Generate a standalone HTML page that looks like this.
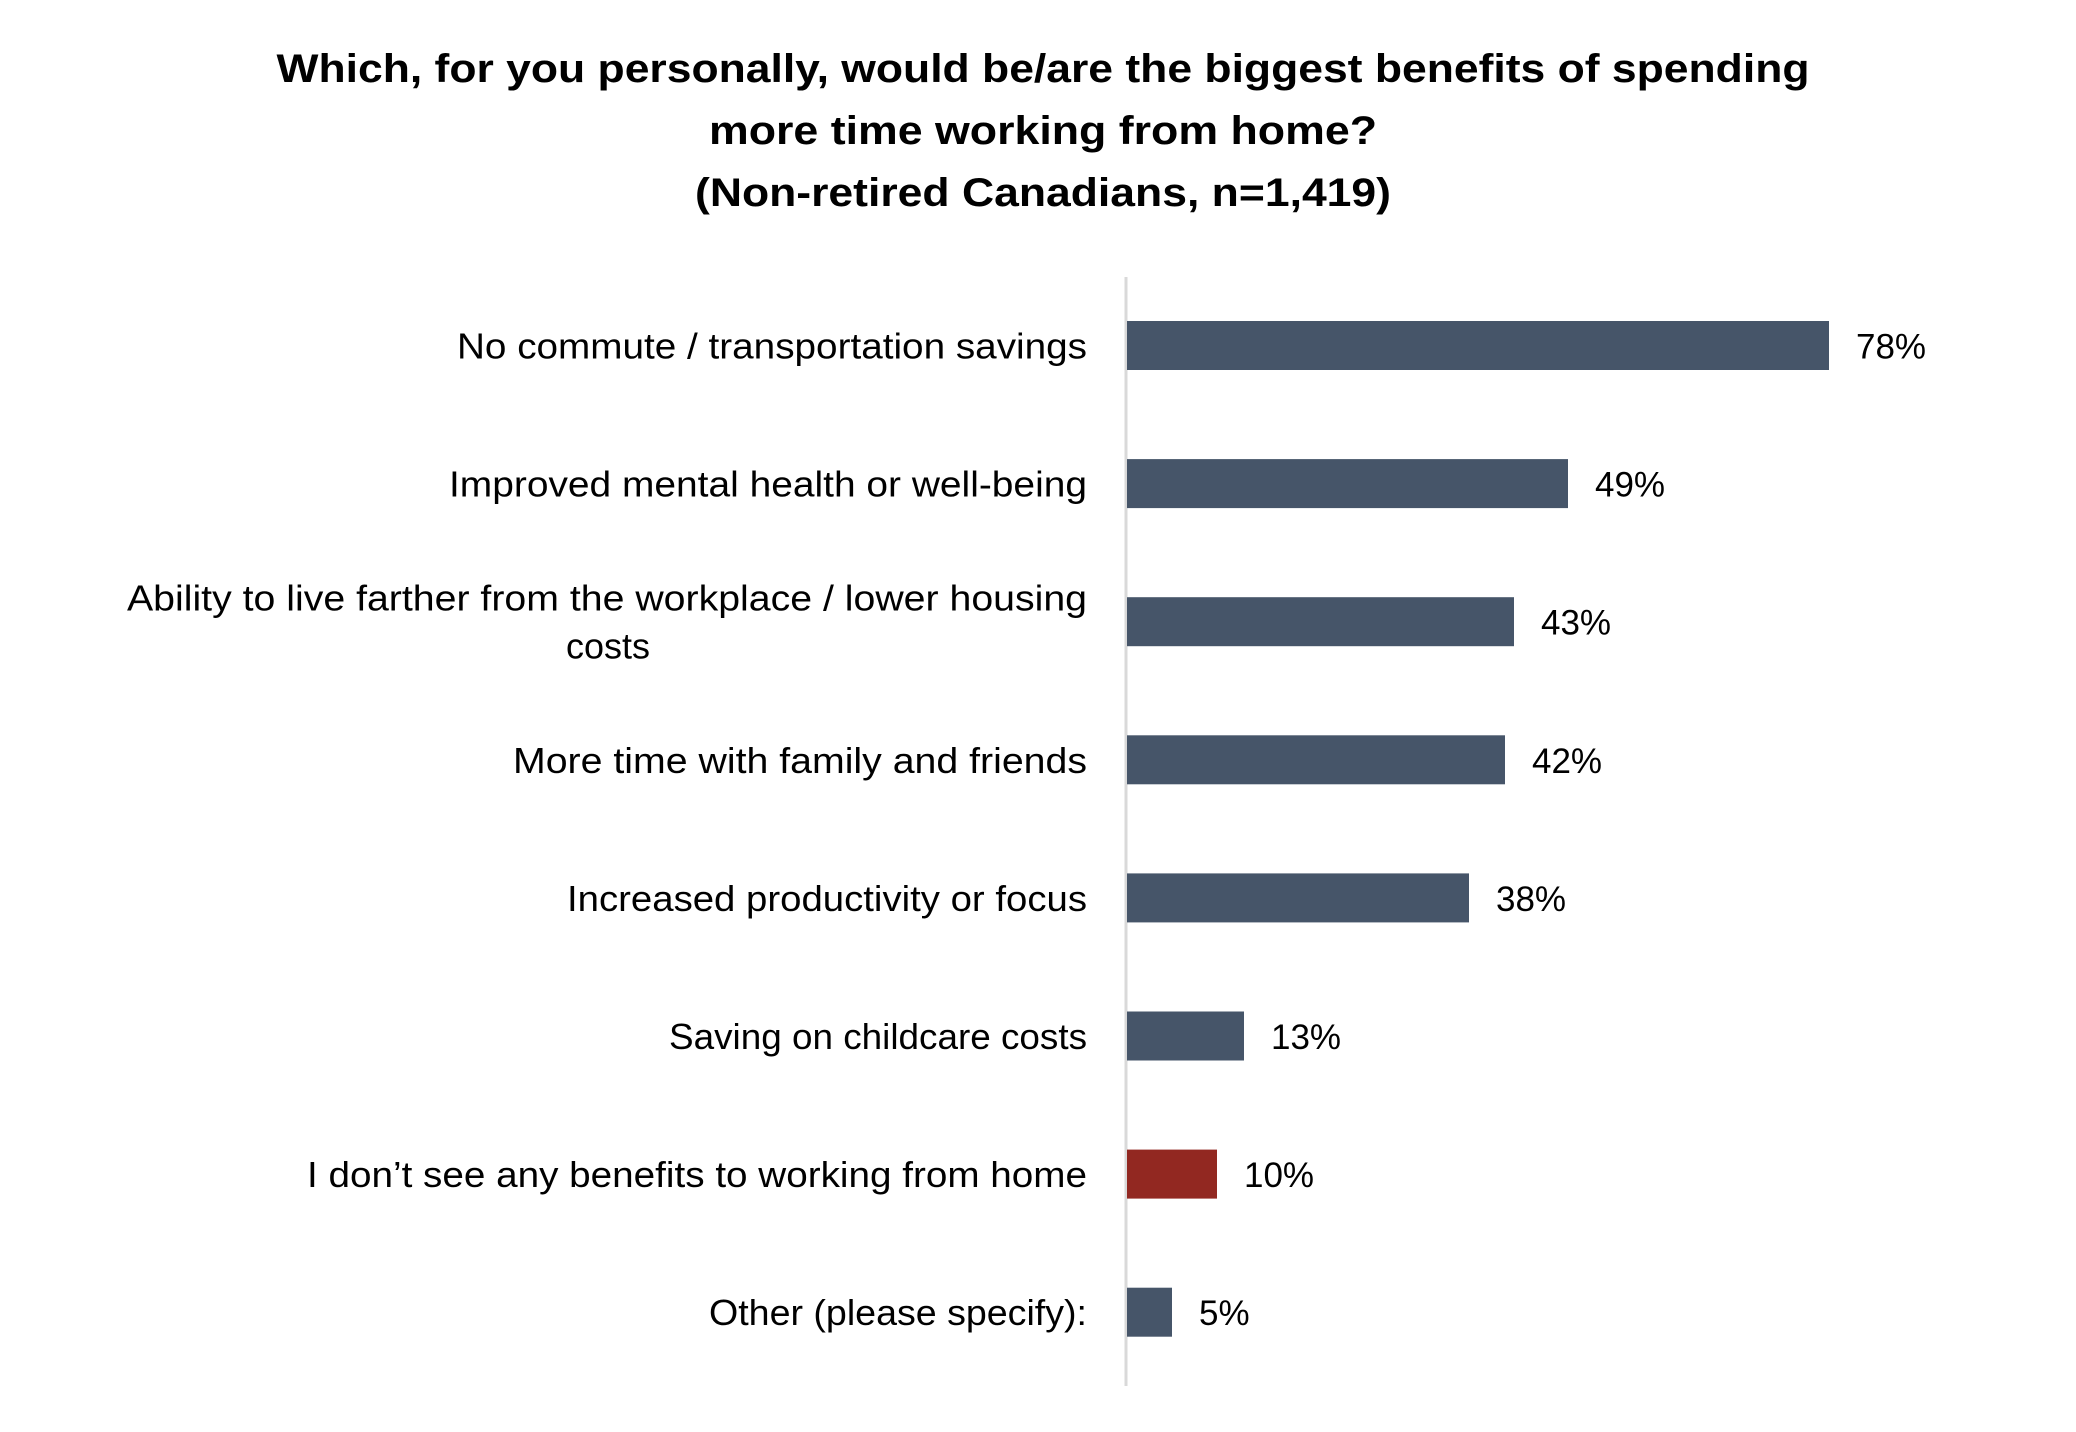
<!DOCTYPE html>
<html><head><meta charset="utf-8"><style>
html,body{margin:0;padding:0;background:#fff;}
svg{display:block;font-family:"Liberation Sans",sans-serif;}
</style></head><body>
<svg id="chart" width="2076" height="1432" viewBox="0 0 2076 1432" xmlns="http://www.w3.org/2000/svg">
<g font-weight="bold" font-size="40" text-anchor="middle" fill="#000">
<text x="1043" y="82" textLength="1533" lengthAdjust="spacingAndGlyphs">Which, for you personally, would be/are the biggest benefits of spending</text>
<text x="1043" y="144" textLength="668" lengthAdjust="spacingAndGlyphs">more time working from home?</text>
<text x="1043" y="206" textLength="696" lengthAdjust="spacingAndGlyphs">(Non-retired Canadians, n=1,419)</text>
</g>
<line x1="1126" y1="277" x2="1126" y2="1386" stroke="#d9d9d9" stroke-width="3"/>
<g id="bars"></g>
</svg>
<script>
const categories = [
  ["No commute / transportation savings"],
  ["Improved mental health or well-being"],
  ["Ability to live farther from the workplace / lower housing","costs"],
  ["More time with family and friends"],
  ["Increased productivity or focus"],
  ["Saving on childcare costs"],
  ["I don\u2019t see any benefits to working from home"],
  ["Other (please specify):"]
];
const values = [78, 49, 43, 42, 38, 13, 10, 5];
const valueLabels = ["78%","49%","43%","42%","38%","13%","10%","5%"];
const highlight = [false,false,false,false,false,false,true,false];
const labelWidths = [630, 638, 960, 574, 520, 418, 780, 378];

const NS = "http://www.w3.org/2000/svg";
const x0 = 1126, pxPer = 9.0;
const xScale = v => x0 + v * pxPer;
const top0 = 321, pitch = 138.1, barH = 49;
const yScale = i => top0 + i * pitch;
const g = document.getElementById('bars');
categories.forEach((lines, i) => {
  const y = yScale(i), cy = y + barH / 2;
  const r = document.createElementNS(NS, 'rect');
  r.setAttribute('x', x0 + 1);
  r.setAttribute('y', y);
  r.setAttribute('width', xScale(values[i]) - x0);
  r.setAttribute('height', barH);
  r.setAttribute('fill', highlight[i] ? '#922821' : '#465569');
  
  
  g.appendChild(r);
  const v = document.createElementNS(NS, 'text');
  v.setAttribute('x', xScale(values[i]) + 28);
  v.setAttribute('y', cy + 13);
  v.setAttribute('font-size', '35');
  v.textContent = valueLabels[i];
  
  
  g.appendChild(v);
  const t = document.createElementNS(NS, 'text');
  t.setAttribute('font-size', '36');
  
  
  if (lines.length === 1) {
    t.setAttribute('x', 1087);
    t.setAttribute('y', cy + 13);
    t.setAttribute('text-anchor', 'end');
    t.setAttribute('textLength', labelWidths[i]);
    t.setAttribute('lengthAdjust', 'spacingAndGlyphs');
    t.textContent = lines[0];
  } else {
    const a = document.createElementNS(NS, 'tspan');
    a.setAttribute('x', 1087); a.setAttribute('y', cy - 11);
    a.setAttribute('text-anchor', 'end');
    a.setAttribute('textLength', labelWidths[i]);
    a.setAttribute('lengthAdjust', 'spacingAndGlyphs');
    a.textContent = lines[0];
    const b = document.createElementNS(NS, 'tspan');
    b.setAttribute('x', 608); b.setAttribute('y', cy + 37);
    b.setAttribute('text-anchor', 'middle');
    b.setAttribute('textLength', 84);
    b.setAttribute('lengthAdjust', 'spacingAndGlyphs');
    b.textContent = lines[1];
    t.appendChild(a); t.appendChild(b);
  }
  g.appendChild(t);
});
</script>
</body></html>
